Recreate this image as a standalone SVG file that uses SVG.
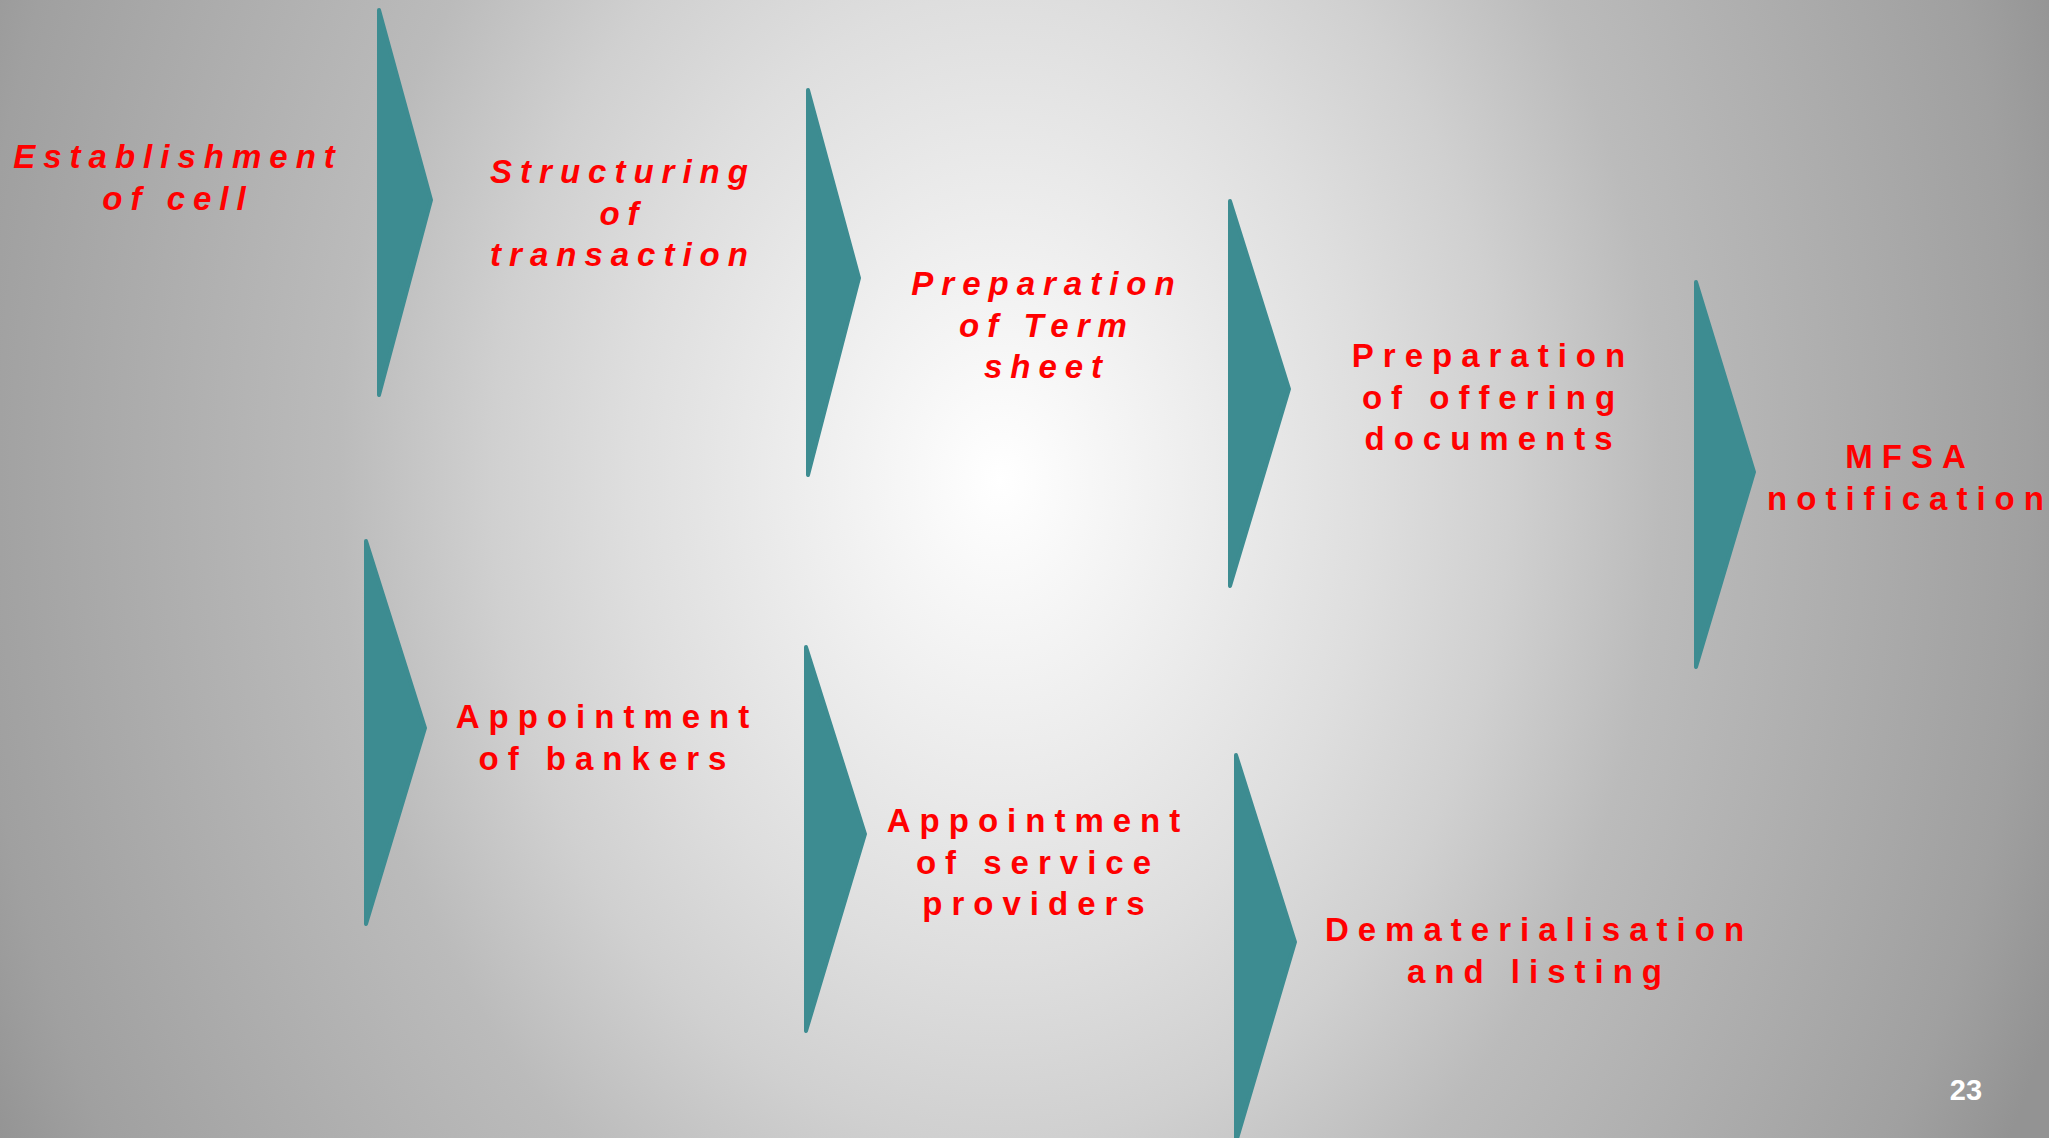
<svg xmlns="http://www.w3.org/2000/svg" width="2049" height="1138" viewBox="0 0 2049 1138">
  <defs>
    <radialGradient id="bg" gradientUnits="userSpaceOnUse" cx="1000" cy="480" r="1130"
        gradientTransform="translate(1000 480) scale(1 1.3) translate(-1000 -480)">
      <stop offset="0" stop-color="#ffffff"/>
      <stop offset="0.33" stop-color="#dedede"/>
      <stop offset="0.45" stop-color="#d0d0d0"/>
      <stop offset="0.585" stop-color="#bbbbbb"/>
      <stop offset="0.91" stop-color="#a0a0a0"/>
      <stop offset="0.94" stop-color="#9c9c9c"/>
      <stop offset="1" stop-color="#939393"/>
    </radialGradient>
    <style>
      .chev { fill: #3d8c91; stroke: #3d8c91; stroke-width: 4; stroke-linejoin: round; }
      .lbl { font-family: "Liberation Sans", Arial, sans-serif; font-weight: bold; font-size: 33px;
             letter-spacing: 9px; fill: #ff0000; text-anchor: middle; }
      .it { font-style: italic; letter-spacing: 8px; }
      .num { font-family: "Liberation Sans", Arial, sans-serif; font-weight: bold; font-size: 29px;
             fill: #ffffff; text-anchor: middle; }
    </style>
  </defs>

  <!-- slide background -->
  <rect x="0" y="0" width="2049" height="1138" fill="url(#bg)"/>

  <!-- chevron separators between steps -->
  <g id="connectors">
    <path class="chev" d="M379,10 L431,200 L379,395 Z"/>
    <path class="chev" d="M808,90 L859,278 L808,475 Z"/>
    <path class="chev" d="M1230,201 L1289,389 L1230,586 Z"/>
    <path class="chev" d="M1696,282 L1754,472 L1696,667 Z"/>
    <path class="chev" d="M366,541 L425,728 L366,924 Z"/>
    <path class="chev" d="M806,647 L865,834 L806,1031 Z"/>
    <path class="chev" d="M1236,755 L1295,942 L1236,1142 Z"/>
  </g>

  <!-- process steps -->
  <g id="step-establishment">
    <text class="lbl it" x="178" y="168">Establishment</text>
    <text class="lbl it" x="178" y="210">of cell</text>
  </g>
  <g id="step-structuring">
    <text class="lbl it" x="623" y="183">Structuring</text>
    <text class="lbl it" x="623" y="225">of</text>
    <text class="lbl it" x="623" y="266">transaction</text>
  </g>
  <g id="step-term-sheet">
    <text class="lbl it" x="1047" y="295">Preparation</text>
    <text class="lbl it" x="1047" y="337">of Term</text>
    <text class="lbl it" x="1047" y="378">sheet</text>
  </g>
  <g id="step-offering-docs">
    <text class="lbl" x="1493" y="367">Preparation</text>
    <text class="lbl" x="1493" y="409">of offering</text>
    <text class="lbl" x="1493" y="450">documents</text>
  </g>
  <g id="step-mfsa">
    <text class="lbl" x="1910" y="468">MFSA</text>
    <text class="lbl" x="1910" y="510">notification</text>
  </g>
  <g id="step-bankers">
    <text class="lbl" x="607" y="728">Appointment</text>
    <text class="lbl" x="607" y="770">of bankers</text>
  </g>
  <g id="step-service-providers">
    <text class="lbl" x="1038" y="832">Appointment</text>
    <text class="lbl" x="1038" y="874">of service</text>
    <text class="lbl" x="1038" y="915">providers</text>
  </g>
  <g id="step-listing">
    <text class="lbl" x="1539" y="941">Dematerialisation</text>
    <text class="lbl" x="1539" y="983">and listing</text>
  </g>

  <!-- slide number -->
  <g id="slide-number">
    <text class="num" x="1966" y="1100">23</text>
  </g>
</svg>
